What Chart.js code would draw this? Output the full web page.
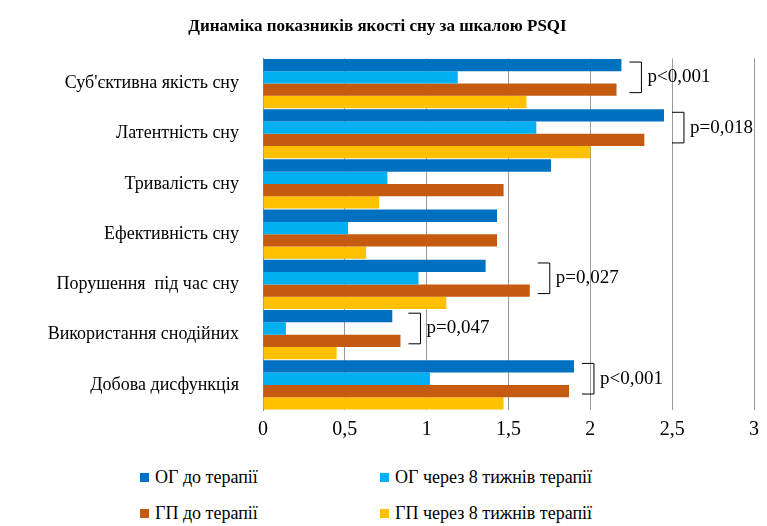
<!DOCTYPE html>
<html><head><meta charset="utf-8">
<script src="https://cdn.jsdelivr.net/npm/chart.js@4"></script>
<style>
body{margin:0;background:#fff;font-family:"Liberation Serif","Times New Roman",serif;}
#wrap{position:relative;width:767px;height:526px;}
#c{position:absolute;left:0;top:0;}
.lg{position:absolute;font-size:18px;color:#000;display:flex;align-items:center;}
.lg span{display:inline-block;width:9px;height:9px;margin-right:6px;}
</style></head><body>
<div id="wrap">
<canvas id="c" width="767" height="450"></canvas>
<div class="lg" style="left:140px;top:467px"><span style="background:#0070C0"></span>ОГ до терапії</div>
<div class="lg" style="left:380px;top:467px"><span style="background:#00B0F0"></span>ОГ через 8 тижнів терапії</div>
<div class="lg" style="left:140px;top:503px"><span style="background:#C55A11"></span>ГП до терапії</div>
<div class="lg" style="left:380px;top:503px"><span style="background:#FFC000"></span>ГП через 8 тижнів терапії</div>
</div>
<script>
const categories=["Суб'єктивна якість сну","Латентність сну","Тривалість сну","Ефективність сну","Порушення  під час сну","Використання снодійних","Добова дисфункція"];
const ogBefore=[2.19,2.45,1.76,1.43,1.36,0.79,1.90];
const ogAfter=[1.19,1.67,0.76,0.52,0.95,0.14,1.02];
const gpBefore=[2.16,2.33,1.47,1.43,1.63,0.84,1.87];
const gpAfter=[1.61,2.00,0.71,0.63,1.12,0.45,1.47];
const pLabels=["p<0,001","p=0,018","","","p=0,027","p=0,047","p<0,001"];
const tickLabels=["0","0,5","1","1,5","2","2,5","3"];
const font="'Liberation Serif','Times New Roman',serif";
const ann={id:'ann',afterDatasetsDraw(ch){
  const ctx=ch.ctx,x=ch.scales.x;
  ctx.save();ctx.strokeStyle='#000';ctx.lineWidth=1;ctx.fillStyle='#000';
  pLabels.forEach((t,i)=>{ if(!t)return;
    const b0=ch.getDatasetMeta(0).data[i],b2=ch.getDatasetMeta(2).data[i];
    const y1=b0.y-3,y2=b2.y+3;
    const xe=x.getPixelForValue(Math.max(ogBefore[i],gpBefore[i]))+8;
    ctx.beginPath();ctx.moveTo(xe,y1);ctx.lineTo(xe+12,y1);ctx.lineTo(xe+12,y2);ctx.lineTo(xe,y2);ctx.stroke();
    ctx.font='19px '+font;ctx.textBaseline='middle';
    ctx.fillText(t,xe+18,(y1+y2)/2);
  });ctx.restore();}};
new Chart(document.getElementById('c'),{type:'bar',
data:{labels:categories,datasets:[
{label:'ОГ до терапії',data:ogBefore,backgroundColor:'#0070C0'},
{label:'ОГ через 8 тижнів терапії',data:ogAfter,backgroundColor:'#00B0F0'},
{label:'ГП до терапії',data:gpBefore,backgroundColor:'#C55A11'},
{label:'ГП через 8 тижнів терапії',data:gpAfter,backgroundColor:'#FFC000'}]},
options:{indexAxis:'y',responsive:false,animation:false,
layout:{padding:{left:0,right:12,top:0}},
plugins:{legend:{display:false},tooltip:{enabled:false},
title:{display:true,text:'Динаміка показників якості сну за шкалою PSQI',color:'#000',font:{family:font,size:17,weight:'bold'},padding:{top:16,bottom:22}}},
datasets:{bar:{categoryPercentage:0.98,barPercentage:1}},
scales:{x:{min:0,max:3,ticks:{stepSize:0.5,color:'#000',padding:8,font:{family:font,size:20},callback:(v,i)=>tickLabels[i]},
grid:{color:(c)=>c.tick&&c.tick.value>0?'#999':'transparent',drawTicks:false},border:{display:false}},
y:{afterFit:(s)=>{s.width=263;},ticks:{color:'#000',font:{family:font,size:18},padding:16},grid:{display:false},border:{color:'#888'}}}},
plugins:[ann]});
</script></body></html>
